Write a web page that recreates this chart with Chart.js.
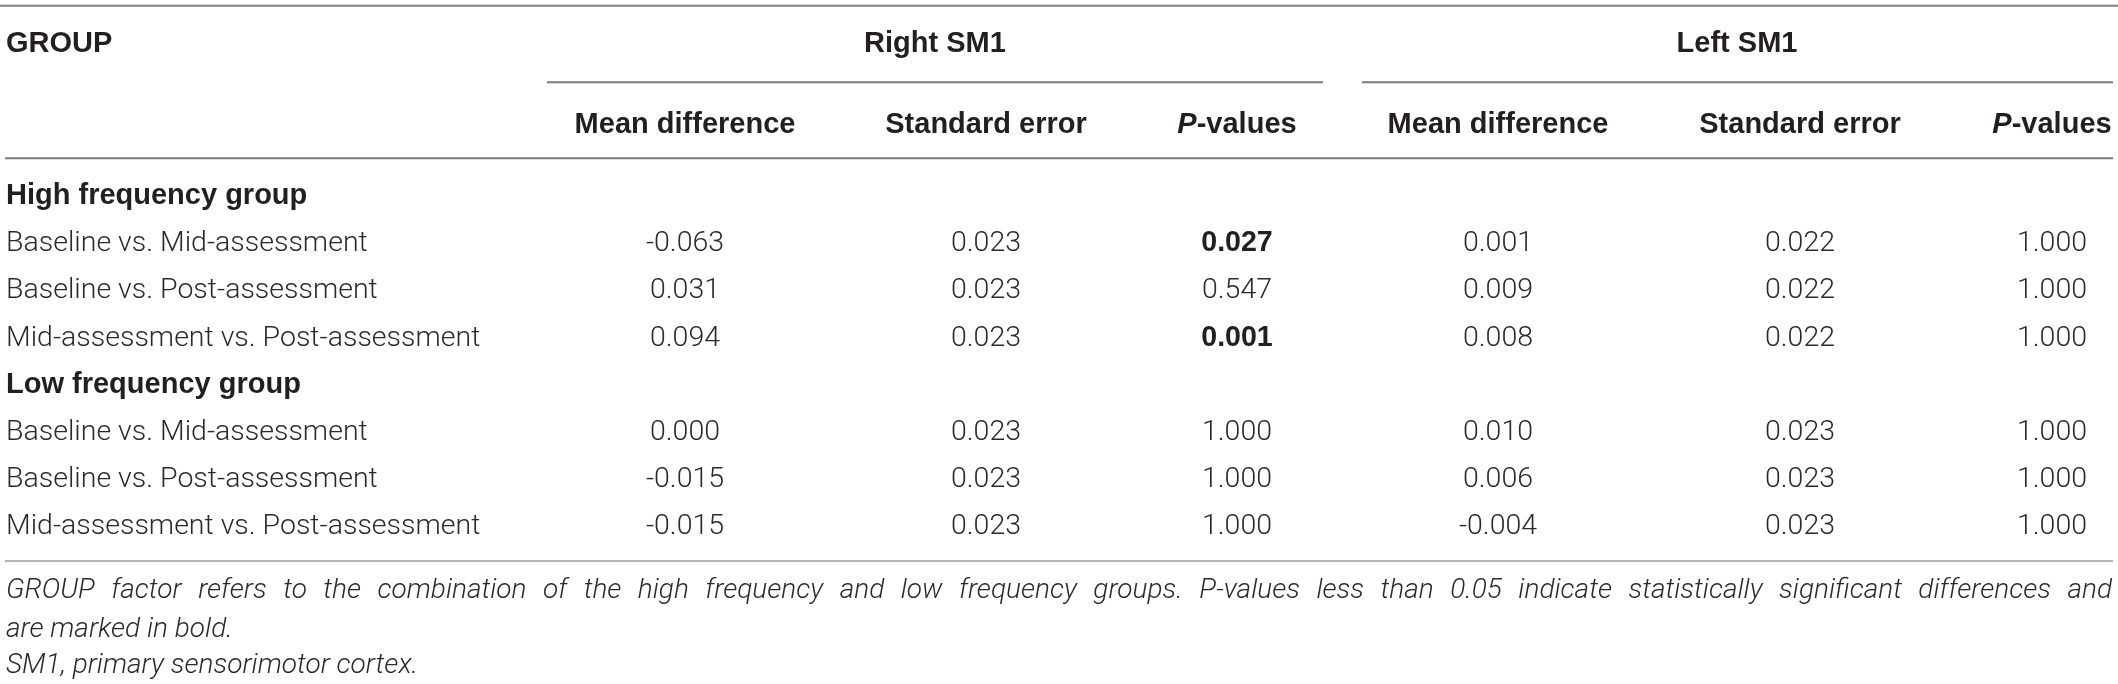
<!DOCTYPE html>
<html>
<head>
<meta charset="utf-8">
<script src="https://cdn.jsdelivr.net/npm/chart.js@4.4.1/dist/chart.umd.min.js"></script>
<style>
  html, body { margin: 0; padding: 0; background: #fff; }
  #wrap { width: 2118px; height: 684px; }
</style>
</head>
<body>
<div id="wrap"><canvas id="tbl"></canvas></div>
<script>
// table content
const groups = ['High frequency group', 'Low frequency group'];
const comparisons = ['Baseline vs. Mid-assessment', 'Baseline vs. Post-assessment', 'Mid-assessment vs. Post-assessment'];
const regions = ['Right SM1', 'Left SM1'];
const colHeads = ['Mean difference', 'Standard error', 'P-values'];

const rightMeanDiff = [-0.063, 0.031, 0.094, 0.000, -0.015, -0.015];
const rightStdErr   = [0.023, 0.023, 0.023, 0.023, 0.023, 0.023];
const rightP        = [0.027, 0.547, 0.001, 1.000, 1.000, 1.000];
const leftMeanDiff  = [0.001, 0.009, 0.008, 0.010, 0.006, -0.004];
const leftStdErr    = [0.022, 0.022, 0.022, 0.023, 0.023, 0.023];
const leftP         = [1.000, 1.000, 1.000, 1.000, 1.000, 1.000];

const footnotes = [
  'GROUP factor refers to the combination of the high frequency and low frequency groups. P-values less than 0.05 indicate statistically significant differences and',
  'are marked in bold.',
  'SM1, primary sensorimotor cortex.'
];

// layout: x in page px, y in row units (0 = first group heading, one unit per body row)
const layout = {
  labelX: 6,
  colX: [685, 986, 1237, 1498, 1800, 2052],
  regionX: [935, 1737],
  underline: [[547, 1323], [1362, 2113]],
  ruleX: [5, 2113],
  baseTop: -3.02, baseSub: -1.30,
  ruleTop: -4.00, ruleUnder: -2.38, ruleMid: -0.77, ruleBottom: 7.765,
  footBase: [8.55, 9.375, 10.14],
  footRight: 2112
};

const BODY = '300 28.5px Roboto, "Liberation Sans", sans-serif';
const BOLD = '700 29px "Liberation Sans", Arimo, Arial, sans-serif';
const BOLD_CELL = '700 28.6px "Liberation Sans", Arimo, Arial, sans-serif';
const FOOT = 'italic 300 28px Roboto, "Liberation Sans", sans-serif';
const INK = '#231f20';
const BODY_INK = '#2a2a2a';

const rowOf = i => Math.floor(i / 3) * 4 + 1 + (i % 3);

const columns = [rightMeanDiff, rightStdErr, rightP, leftMeanDiff, leftStdErr, leftP];
const datasets = columns.map((vals, c) => ({
  label: colHeads[c % 3],
  data: vals.map((v, i) => ({ x: layout.colX[c], y: rowOf(i), v: v })),
  isP: c % 3 === 2,
  align: 'center',
  pointRadius: 0,
  pointHoverRadius: 0,
  showLine: false
}));
// row labels and group headings
datasets.push({
  label: 'rows',
  data: [0, 1].flatMap(g => comparisons.map((t, k) => ({ x: layout.labelX, y: g * 4 + 1 + k, v: t }))),
  align: 'left', pointRadius: 0, showLine: false
});
datasets.push({
  label: 'groups',
  data: groups.map((t, g) => ({ x: layout.labelX, y: g * 4, v: t })),
  align: 'left', bold: true, pointRadius: 0, showLine: false
});

function drawRule(ctx, xs, ys, x0, x1, y, color, w) {
  ctx.save();
  ctx.strokeStyle = color;
  ctx.lineWidth = w;
  ctx.beginPath();
  ctx.moveTo(xs.getPixelForValue(x0), ys.getPixelForValue(y));
  ctx.lineTo(xs.getPixelForValue(x1), ys.getPixelForValue(y));
  ctx.stroke();
  ctx.restore();
}

// "P-values" with an italic P
function drawPHead(ctx, cx, base) {
  ctx.font = 'italic ' + BOLD;
  const w1 = ctx.measureText('P').width;
  ctx.font = BOLD;
  const w2 = ctx.measureText('-values').width;
  const x = cx - (w1 + w2) / 2;
  ctx.textAlign = 'left';
  ctx.font = 'italic ' + BOLD;
  ctx.fillText('P', x, base);
  ctx.font = BOLD;
  ctx.fillText('-values', x + w1, base);
}

const tablePlugin = {
  id: 'tablePlugin',
  afterDatasetsDraw(chart) {
    const ctx = chart.ctx;
    const xs = chart.scales.x, ys = chart.scales.y;
    const capOff = 9.5;
    ctx.save();
    ctx.textBaseline = 'alphabetic';

    // rules
    drawRule(ctx, xs, ys, 0, 2118, layout.ruleTop, '#808080', 2);
    layout.underline.forEach(u => drawRule(ctx, xs, ys, u[0], u[1], layout.ruleUnder, '#7a7a7a', 2));
    drawRule(ctx, xs, ys, layout.ruleX[0], layout.ruleX[1], layout.ruleMid, '#7a7a7a', 2);
    drawRule(ctx, xs, ys, layout.ruleX[0], layout.ruleX[1], layout.ruleBottom, '#b4b4b4', 2);

    // headers
    ctx.fillStyle = INK;
    ctx.font = BOLD;
    ctx.textAlign = 'left';
    ctx.fillText('GROUP', xs.getPixelForValue(layout.labelX), ys.getPixelForValue(layout.baseTop));
    ctx.textAlign = 'center';
    regions.forEach((r, i) => ctx.fillText(r, xs.getPixelForValue(layout.regionX[i]), ys.getPixelForValue(layout.baseTop)));
    layout.colX.forEach((hx, c) => {
      const px = xs.getPixelForValue(hx), base = ys.getPixelForValue(layout.baseSub);
      if (c % 3 === 2) {
        drawPHead(ctx, px, base);
      } else {
        ctx.textAlign = 'center';
        ctx.font = BOLD;
        ctx.fillText(colHeads[c % 3], px, base);
      }
    });

    // cells
    chart.data.datasets.forEach((ds, i) => {
      const meta = chart.getDatasetMeta(i);
      meta.data.forEach((pt, j) => {
        const v = ds.data[j].v;
        const txt = typeof v === 'number' ? v.toFixed(3) : v;
        const bold = ds.bold || (ds.isP && v < 0.05);
        ctx.font = ds.bold ? BOLD : (bold ? BOLD_CELL : BODY);
        ctx.fillStyle = bold ? INK : BODY_INK;
        ctx.textAlign = ds.align;
        ctx.fillText(txt, pt.x, pt.y + capOff);
      });
    });

    // footnotes, first line justified to the table width
    ctx.font = FOOT;
    ctx.fillStyle = BODY_INK;
    ctx.textAlign = 'left';
    const x0 = xs.getPixelForValue(layout.labelX);
    footnotes.forEach((line, k) => {
      const base = ys.getPixelForValue(layout.footBase[k]);
      if (k === 0) {
        const words = line.split(' ');
        const total = words.reduce((s, w) => s + ctx.measureText(w).width, 0);
        const gap = (xs.getPixelForValue(layout.footRight) - x0 - total) / (words.length - 1);
        let x = x0;
        words.forEach(w => { ctx.fillText(w, x, base); x += ctx.measureText(w).width + gap; });
      } else {
        ctx.fillText(line, x0, base);
      }
    });
    ctx.restore();
  }
};

new Chart(document.getElementById('tbl'), {
  type: 'scatter',
  data: { datasets: datasets },
  options: {
    responsive: true,
    maintainAspectRatio: false,
    animation: false,
    events: [],
    layout: { padding: 0 },
    plugins: { legend: { display: false }, tooltip: { enabled: false } },
    scales: {
      x: { type: 'linear', display: false, min: 0, max: 2118 },
      y: { type: 'linear', display: false, reverse: true, min: -194.5 / 47.2, max: (684 - 194.5) / 47.2 }
    }
  },
  plugins: [tablePlugin]
});
</script>
</body>
</html>
